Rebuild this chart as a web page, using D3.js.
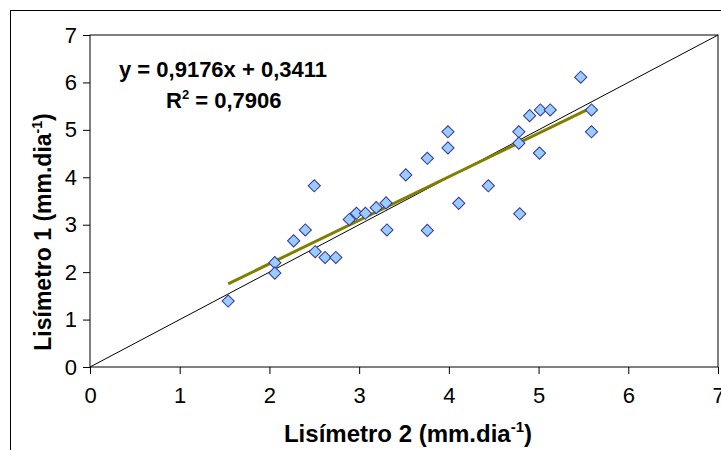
<!DOCTYPE html>
<html>
<head>
<meta charset="utf-8">
<script src="https://cdn.jsdelivr.net/npm/d3@7"></script>
<style>
  body { margin: 0; background: #fff; }
  text { font-family: "Liberation Sans", Arial, sans-serif; }
</style>
</head>
<body>
<div id="chart"></div>
<script>
(function () {

  // Lisímetro 2 (x) and Lisímetro 1 (y), mm/dia
  const lisimetro2 = [1.54, 2.06, 2.06, 2.27, 2.40, 2.50, 2.51, 2.62, 2.74, 2.89, 2.97,
    3.07, 3.19, 3.30, 3.31, 3.52, 3.76, 3.76, 3.99, 3.99, 4.11, 4.44, 4.78, 4.78, 4.79,
    4.90, 5.01, 5.02, 5.13, 5.47, 5.59, 5.59]
  const lisimetro1 = [1.39, 2.20, 1.98, 2.66, 2.89, 3.82, 2.43, 2.31, 2.31, 3.11, 3.24,
    3.24, 3.36, 3.46, 2.89, 4.05, 4.40, 2.88, 4.96, 4.62, 3.45, 3.82, 4.96, 4.72, 3.23,
    5.30, 4.51, 5.42, 5.42, 6.11, 5.42, 4.96]

  const trendSlope = 0.9176
  const trendIntercept = 0.3411
  const ticks = [0, 1, 2, 3, 4, 5, 6, 7]

  const datapoints = lisimetro2.map((x, i) => ({ x: x, y: lisimetro1[i] }))

  const margin = { top: 35, right: 3, bottom: 83, left: 90 }
  const width = 721 - margin.left - margin.right
  const height = 450 - margin.top - margin.bottom

  const root = d3.select("#chart").append("svg")
      .attr("width", 721)
      .attr("height", 450)

  // outer chart frame (runs off the right and bottom edge)
  root.append("rect")
    .attr("x", 10.5)
    .attr("y", 10.5)
    .attr("width", 800)
    .attr("height", 600)
    .attr("fill", "none")
    .attr("stroke", "black")

  const svg = root.append("g")
      .attr("transform", "translate(" + margin.left + "," + margin.top + ")")

  const xPositionScale = d3.scaleLinear()
    .domain([0, 7])
    .range([0, width])

  const yPositionScale = d3.scaleLinear()
    .domain([0, 7])
    .range([height, 0])

  // plot area border
  svg.append("rect")
    .attr("width", width)
    .attr("height", height)
    .attr("fill", "none")
    .attr("stroke", "black")

  // 1:1 line
  svg.append("line")
    .attr("x1", xPositionScale(0))
    .attr("y1", yPositionScale(0))
    .attr("x2", xPositionScale(7))
    .attr("y2", yPositionScale(7))
    .attr("stroke", "black")
    .attr("stroke-width", 1)

  // linear trend
  const xMin = d3.min(lisimetro2)
  const xMax = d3.max(lisimetro2)
  svg.append("line")
    .attr("x1", xPositionScale(xMin))
    .attr("y1", yPositionScale(trendSlope * xMin + trendIntercept))
    .attr("x2", xPositionScale(xMax))
    .attr("y2", yPositionScale(trendSlope * xMax + trendIntercept))
    .attr("stroke", "#808000")
    .attr("stroke-width", 3)

  const diamond = d3.symbol().type(d3.symbolSquare).size(74)

  svg.selectAll(".point")
    .data(datapoints)
    .join("path")
    .attr("class", "point")
    .attr("d", diamond)
    .attr("transform", d => "translate(" + xPositionScale(d.x) + "," + yPositionScale(d.y) + ") rotate(45)")
    .attr("fill", "#99ccff")
    .attr("stroke", "#333399")
    .attr("stroke-width", 1)

  const yAxis = d3.axisLeft(yPositionScale).tickValues(ticks).tickFormat(d3.format("d"))
    .tickSize(7).tickPadding(6)
  svg.append("g")
    .attr("class", "axis y-axis")
    .call(yAxis)
    .call(g => g.select(".domain").remove())
    .selectAll("text")
    .attr("font-size", 22)
    .attr("font-family", "Liberation Sans, Arial, sans-serif")
    .attr("fill", "black")

  const xAxis = d3.axisBottom(xPositionScale).tickValues(ticks).tickFormat(d3.format("d"))
    .tickSize(7).tickPadding(13)
  svg.append("g")
    .attr("class", "axis x-axis")
    .attr("transform", "translate(0," + height + ")")
    .call(xAxis)
    .call(g => g.select(".domain").remove())
    .selectAll("text")
    .attr("font-size", 22)
    .attr("font-family", "Liberation Sans, Arial, sans-serif")
    .attr("fill", "black")

  // axis titles
  const xTitle = root.append("text")
    .attr("x", 408)
    .attr("y", 442)
    .attr("text-anchor", "middle")
    .attr("font-size", 24)
    .attr("font-weight", "bold")
  xTitle.append("tspan").text("Lisímetro 2 (mm.dia")
  xTitle.append("tspan").attr("font-size", 15).attr("dy", -10).text("-1")
  xTitle.append("tspan").attr("dy", 10).text(")")

  const yTitle = root.append("text")
    .attr("transform", "translate(51,232) rotate(-90)")
    .attr("text-anchor", "middle")
    .attr("font-size", 23)
    .attr("font-weight", "bold")
  yTitle.append("tspan").text("Lisímetro 1 (mm.dia")
  yTitle.append("tspan").attr("font-size", 14).attr("dy", -9).text("-1")
  yTitle.append("tspan").attr("dy", 9).text(")")

  // regression label
  root.append("text")
    .attr("x", 119)
    .attr("y", 77)
    .attr("font-size", 22)
    .attr("font-weight", "bold")
    .text("y = 0,9176x + 0,3411")

  const r2 = root.append("text")
    .attr("x", 166)
    .attr("y", 108)
    .attr("font-size", 22)
    .attr("font-weight", "bold")
  r2.append("tspan").text("R")
  r2.append("tspan").attr("font-size", 13).attr("dy", -9).text("2")
  r2.append("tspan").attr("dy", 9).text(" = 0,7906")

})();
</script>
</body>
</html>
